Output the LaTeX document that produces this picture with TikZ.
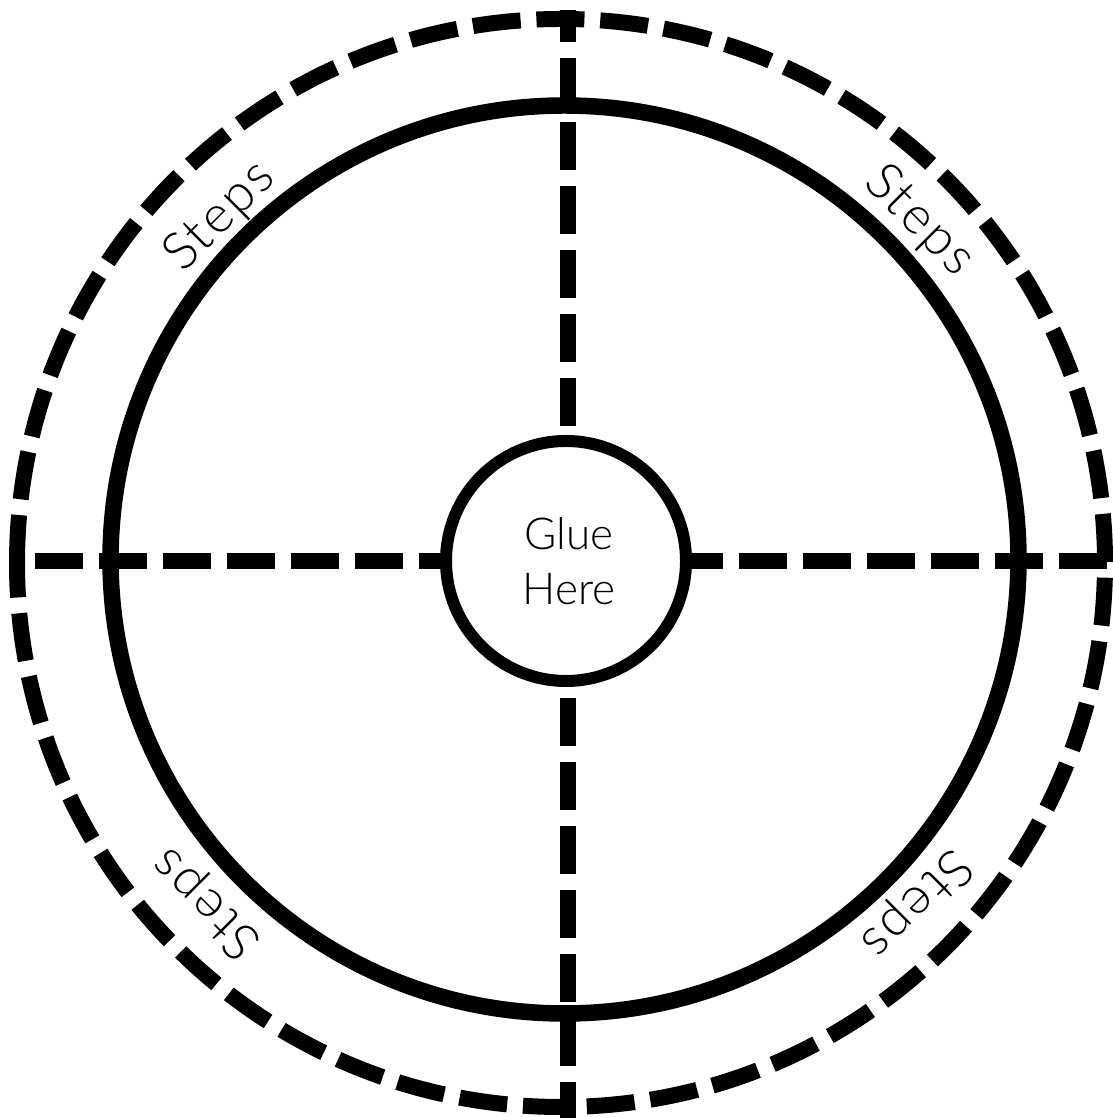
\documentclass[tikz,border=0pt]{standalone}
\usepackage{fontspec}
\newfontfamily\lightfont{Lato Light}
\begin{document}
\begin{tikzpicture}[x=1pt,y=1pt,
  dashline/.style={line width=16pt, line cap=butt, dash pattern=on 48pt off 16pt},
  ringdash/.style={line width=16pt, line cap=butt, dash pattern=on 48pt off 15.85pt},
  solidring/.style={line width=16.5pt},
  gluebox/.style={circle, draw, line width=12pt, fill=white, minimum size=240pt, inner sep=0pt, align=center, font=\lightfont\fontsize{44}{55}\selectfont},
  steplabel/.style={font=\lightfont\fontsize{52}{60}\selectfont\addfontfeature{LetterSpace=5}, inner sep=0pt}
]
\useasboundingbox (0,0) rectangle (1112,1118);
% outer dashed ring, started at the left, running clockwise
\coordinate (ringstart) at (17,555);
\draw[ringdash] (ringstart) arc[start angle=180, end angle=-180, radius=544];
% inner solid ring
\coordinate (innerc) at (564.5,558.5);
\draw[solidring] (innerc) circle[radius=454];
% dashed cross lines
\coordinate (vtop) at (568,1108);
\coordinate (vbot) at (568,0);
\coordinate (hl) at (35,556.5);
\coordinate (hr) at (1107,556.5);
\draw[dashline, dash phase=16pt] (vtop) -- (vbot);
\draw[dashline] (hl) -- (hr);
% centre circle
\node[gluebox] (glue) at (566,557) {\hspace*{6pt}Glue\\\hspace*{6pt}Here};
% labels
\node[steplabel, rotate=45] (s1) at (220,901) {Steps};
\node[steplabel, rotate=-45] (s2) at (919,897) {Steps};
\node[steplabel, rotate=135] (s3) at (207,215) {Steps};
\node[steplabel, rotate=-135] (s4) at (916,215) {Steps};
\end{tikzpicture}
\end{document}
